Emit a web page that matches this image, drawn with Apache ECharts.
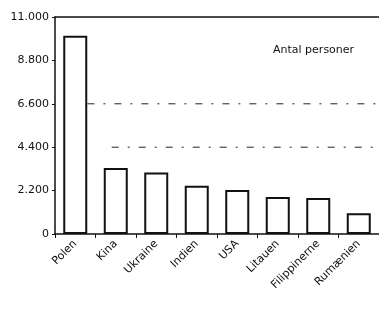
<!DOCTYPE html>
<html>
<head>
<meta charset="utf-8">
<script src="https://cdn.jsdelivr.net/npm/echarts@6/dist/echarts.min.js"></script>
<style>
    html, body { margin: 0; padding: 0; background: #fff; }
    #chart { width: 379px; height: 309px; }
</style>
</head>
<body>
<div id="chart"></div>
<script>
// data
const countries = ['Polen', 'Kina', 'Ukraine', 'Indien', 'USA', 'Litauen', 'Filippinerne', 'Rumænien']
const persons = [10050, 3340, 3120, 2440, 2230, 1870, 1820, 1050]
const yTicks = [0, 2200, 4400, 6600, 8800, 11000]
// the two dash-dot guide lines: [start position on 0..8 scale, level]
const guideUpper = [[0.8, 6600], [8, 6600]]
const guideLower = [[1.4, 4400], [8, 4400]]

const font = 'DejaVu Sans'
const chart = echarts.init(document.getElementById('chart'), null, { renderer: 'canvas' })

chart.setOption({
    animation: false,
    textStyle: { fontFamily: font },
    title: {
        text: 'Antal personer',
        left: 268,
        top: 40,
        textStyle: { fontFamily: font, fontSize: 11, fontWeight: 'normal', color: '#111' },
    },
    grid: {
        left: 55,
        right: 0,
        top: 17,
        bottom: 75,
        containLabel: false,
    },
    xAxis: [
        {
            type: 'category',
            data: countries,
            axisLine: { lineStyle: { color: '#111', width: 1.5 } },
            axisTick: { show: true, length: 4, lineStyle: { color: '#111' } },
            axisLabel: {
                rotate: 45,
                margin: 8,
                fontSize: 11,
                color: '#111',
                fontFamily: font,
                interval: 0,
            },
        },
        {
            // hidden scale for the guide lines, also draws the top frame
            type: 'value',
            position: 'top',
            min: 0,
            max: 8,
            axisLine: { show: true, onZero: false, lineStyle: { color: '#111', width: 1.5 } },
            axisTick: { show: false },
            axisLabel: { show: false },
            splitLine: { show: false },
        },
    ],
    yAxis: {
        type: 'value',
        min: 0,
        max: 11000,
        interval: 2200,
        axisLine: { show: true, lineStyle: { color: '#111', width: 1.5 } },
        axisTick: { show: true, length: 3, lineStyle: { color: '#111' } },
        splitLine: { show: false },
        axisLabel: {
            fontSize: 11,
            color: '#111',
            fontFamily: font,
            margin: 6,
            formatter: v => yTicks.includes(v) ? v.toString().replace(/\B(?=(\d{3})+(?!\d))/g, '.') : '',
        },
    },
    series: [
        {
            type: 'bar',
            data: persons,
            barWidth: 24,
            itemStyle: {
                color: '#fff',
                borderColor: '#111',
                borderWidth: 2,
            },
        },
        {
            type: 'line',
            xAxisIndex: 1,
            data: guideUpper,
            symbol: 'none',
            lineStyle: { color: '#222', width: 1, type: [7, 9, 2, 9] },
        },
        {
            type: 'line',
            xAxisIndex: 1,
            data: guideLower,
            symbol: 'none',
            lineStyle: { color: '#222', width: 1, type: [7, 9, 2, 9] },
        },
    ],
})
</script>
</body>
</html>
